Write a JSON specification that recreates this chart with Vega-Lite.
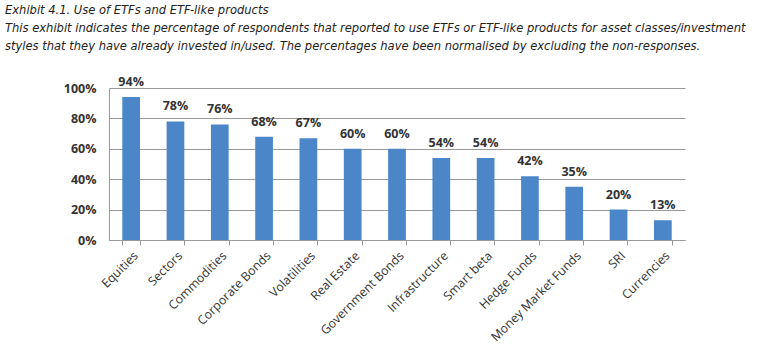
{
  "$schema": "https://vega.github.io/schema/vega-lite/v6.json",
  "width": 576,
  "height": 152,
  "padding": {"left": 5, "top": 4, "right": 5, "bottom": 5},
  "background": "white",
  "title": {
    "text": ["Exhibit 4.1. Use of ETFs and ETF-like products", "This exhibit indicates the percentage of respondents that reported to use ETFs or ETF-like products for asset classes/investment", "styles that they have already invested in/used. The percentages have been normalised by excluding the non-responses."],
    "anchor": "start",
    "frame": "group",
    "dx": -104,
    "font": "DejaVu Sans Condensed",
    "fontStyle": "italic",
    "fontWeight": "normal",
    "fontSize": 12.8,
    "lineHeight": 18,
    "color": "#222222",
    "offset": 23
  },
  "data": {
    "values": [
      {"category": "Equities", "value": 0.94},
      {"category": "Sectors", "value": 0.78},
      {"category": "Commodities", "value": 0.76},
      {"category": "Corporate Bonds", "value": 0.68},
      {"category": "Volatilities", "value": 0.67},
      {"category": "Real Estate", "value": 0.60},
      {"category": "Government Bonds", "value": 0.60},
      {"category": "Infrastructure", "value": 0.54},
      {"category": "Smart beta", "value": 0.54},
      {"category": "Hedge Funds", "value": 0.42},
      {"category": "Money Market Funds", "value": 0.35},
      {"category": "SRI", "value": 0.20},
      {"category": "Currencies", "value": 0.13}
    ]
  },
  "encoding": {
    "x": {
      "field": "category",
      "type": "nominal",
      "sort": null,
      "scale": {"paddingInner": 0.6, "paddingOuter": 0.3},
      "axis": {
        "title": null,
        "labelAngle": -45,
        "labelFont": "Open Sans",
        "labelFontSize": 12.3,
        "labelColor": "#333333",
        "domainColor": "#999999",
        "tickColor": "#999999",
        "tickSize": 5,
        "tickBand": "extent",
        "labelPadding": 4,
        "grid": false
      }
    },
    "y": {
      "field": "value",
      "type": "quantitative",
      "scale": {"domain": [0, 1]},
      "axis": {
        "title": null,
        "values": [0, 0.2, 0.4, 0.6, 0.8, 1],
        "format": ".0%",
        "labelFont": "Open Sans",
        "labelFontWeight": "bold",
        "labelFontSize": 12.5,
        "labelColor": "#333333",
        "ticks": false,
        "labelPadding": 13,
        "domainColor": "#999999",
        "gridColor": "#999999",
        "gridWidth": 1
      }
    }
  },
  "layer": [
    {"mark": {"type": "bar", "color": "#4A86C8"}},
    {
      "mark": {"type": "text", "baseline": "bottom", "dy": -8, "font": "Open Sans", "fontWeight": "bold", "fontSize": 12.5, "color": "#333333"},
      "encoding": {"text": {"field": "value", "type": "quantitative", "format": ".0%"}}
    }
  ],
  "config": {"view": {"stroke": null}}
}
